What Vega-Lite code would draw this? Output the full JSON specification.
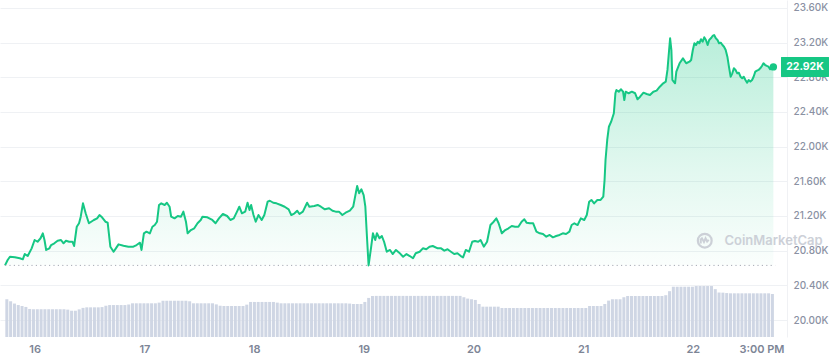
{
  "$schema": "https://vega.github.io/schema/vega-lite/v6.json",
  "width": 787,
  "height": 337,
  "autosize": "none",
  "padding": {"left": 0, "top": 0, "right": 49, "bottom": 22},
  "background": "white",
  "config": {"view": {"stroke": null}, "font": "Inter"},
  "datasets": {
    "price": [
      {"h":0,"p":20630},{"h":0.58,"p":20692},{"h":1.08,"p":20730},{"h":2.16,"p":20723},{"h":3.24,"p":20712},{"h":3.89,"p":20700},{"h":4.32,"p":20761},{"h":4.97,"p":20738},{"h":5.83,"p":20827},{"h":6.48,"p":20923},{"h":7.13,"p":20903},{"h":7.78,"p":20943},{"h":8.27,"p":21000},{"h":8.64,"p":20923},{"h":9.01,"p":20808},{"h":9.72,"p":20827},{"h":10.09,"p":20865},{"h":10.8,"p":20885},{"h":11.51,"p":20915},{"h":12.25,"p":20923},{"h":12.81,"p":20885},{"h":13.33,"p":20915},{"h":14.04,"p":20903},{"h":14.75,"p":20903},{"h":15.12,"p":20854},{"h":15.7,"p":21076},{"h":16.2,"p":21116},{"h":16.57,"p":21192},{"h":17.06,"p":21346},{"h":17.65,"p":21231},{"h":18.36,"p":21116},{"h":18.86,"p":21134},{"h":19.44,"p":21154},{"h":20.15,"p":21173},{"h":20.67,"p":21211},{"h":21.23,"p":21185},{"h":21.97,"p":21134},{"h":22.46,"p":21123},{"h":23.05,"p":20846},{"h":23.76,"p":20788},{"h":24.26,"p":20827},{"h":24.84,"p":20873},{"h":25.92,"p":20857},{"h":27.0,"p":20846},{"h":28.08,"p":20846},{"h":28.79,"p":20865},{"h":29.53,"p":20892},{"h":29.87,"p":20808},{"h":30.39,"p":21000},{"h":30.95,"p":21019},{"h":31.69,"p":21000},{"h":32.25,"p":21076},{"h":32.77,"p":21096},{"h":33.26,"p":21134},{"h":33.7,"p":21327},{"h":34.19,"p":21346},{"h":34.93,"p":21327},{"h":35.42,"p":21353},{"h":36.01,"p":21307},{"h":36.35,"p":21192},{"h":37.09,"p":21173},{"h":37.8,"p":21200},{"h":38.51,"p":21192},{"h":39.03,"p":21250},{"h":39.59,"p":21134},{"h":39.96,"p":21000},{"h":40.67,"p":21038},{"h":41.41,"p":21058},{"h":42.12,"p":21116},{"h":42.83,"p":21154},{"h":43.2,"p":21192},{"h":44.28,"p":21185},{"h":45.36,"p":21154},{"h":46.07,"p":21116},{"h":46.81,"p":21173},{"h":47.67,"p":21223},{"h":48.6,"p":21200},{"h":49.31,"p":21154},{"h":50.05,"p":21173},{"h":50.76,"p":21250},{"h":51.26,"p":21307},{"h":51.84,"p":21231},{"h":52.55,"p":21250},{"h":53.07,"p":21353},{"h":53.5,"p":21269},{"h":53.85,"p":21327},{"h":54.37,"p":21211},{"h":54.86,"p":21134},{"h":55.45,"p":21211},{"h":56.16,"p":21154},{"h":56.74,"p":21211},{"h":57.46,"p":21365},{"h":57.95,"p":21376},{"h":58.69,"p":21353},{"h":59.4,"p":21346},{"h":60.33,"p":21327},{"h":61.19,"p":21307},{"h":62.06,"p":21277},{"h":62.64,"p":21211},{"h":63.35,"p":21231},{"h":63.94,"p":21261},{"h":64.43,"p":21223},{"h":65.17,"p":21250},{"h":66.1,"p":21353},{"h":66.59,"p":21307},{"h":67.67,"p":21315},{"h":68.41,"p":21327},{"h":69.12,"p":21307},{"h":69.98,"p":21277},{"h":70.91,"p":21289},{"h":71.65,"p":21261},{"h":72.36,"p":21250},{"h":73.07,"p":21250},{"h":73.81,"p":21211},{"h":74.52,"p":21238},{"h":75.45,"p":21261},{"h":76.18,"p":21307},{"h":76.53,"p":21404},{"h":77.05,"p":21546},{"h":77.48,"p":21462},{"h":77.98,"p":21508},{"h":78.47,"p":21442},{"h":78.84,"p":21307},{"h":79.21,"p":20943},{"h":79.55,"p":20630},{"h":80.07,"p":20827},{"h":80.5,"p":21000},{"h":81.0,"p":20923},{"h":81.37,"p":21000},{"h":81.93,"p":20943},{"h":82.45,"p":20969},{"h":82.94,"p":20903},{"h":83.53,"p":20788},{"h":84.24,"p":20808},{"h":84.82,"p":20761},{"h":85.54,"p":20808},{"h":86.25,"p":20777},{"h":87.11,"p":20730},{"h":87.85,"p":20761},{"h":88.56,"p":20738},{"h":89.27,"p":20712},{"h":89.86,"p":20770},{"h":90.72,"p":20788},{"h":91.43,"p":20827},{"h":92.17,"p":20816},{"h":92.88,"p":20846},{"h":93.59,"p":20854},{"h":94.67,"p":20827},{"h":95.41,"p":20827},{"h":96.12,"p":20800},{"h":96.83,"p":20816},{"h":97.57,"p":20788},{"h":98.28,"p":20761},{"h":98.99,"p":20770},{"h":99.73,"p":20738},{"h":100.22,"p":20723},{"h":100.81,"p":20808},{"h":101.52,"p":20788},{"h":102.23,"p":20903},{"h":102.82,"p":20912},{"h":103.53,"p":20903},{"h":104.05,"p":20923},{"h":104.76,"p":20846},{"h":105.47,"p":20903},{"h":106.21,"p":21096},{"h":106.92,"p":21134},{"h":107.5,"p":21173},{"h":108.0,"p":21116},{"h":108.71,"p":21000},{"h":109.45,"p":21038},{"h":110.16,"p":21058},{"h":110.87,"p":21085},{"h":111.61,"p":21076},{"h":112.32,"p":21076},{"h":113.03,"p":21134},{"h":113.62,"p":21162},{"h":114.11,"p":21123},{"h":114.85,"p":21116},{"h":115.56,"p":21116},{"h":116.27,"p":21019},{"h":117.01,"p":21000},{"h":117.72,"p":20992},{"h":118.43,"p":20961},{"h":119.17,"p":20981},{"h":119.88,"p":20954},{"h":120.59,"p":20969},{"h":121.33,"p":20981},{"h":122.04,"p":21000},{"h":122.75,"p":20992},{"h":123.49,"p":21019},{"h":123.98,"p":21096},{"h":124.57,"p":21116},{"h":125.28,"p":21096},{"h":125.99,"p":21173},{"h":126.73,"p":21154},{"h":127.29,"p":21211},{"h":127.81,"p":21365},{"h":128.3,"p":21385},{"h":128.89,"p":21346},{"h":129.6,"p":21385},{"h":130.31,"p":21385},{"h":130.9,"p":21423},{"h":131.18,"p":21615},{"h":131.39,"p":21846},{"h":131.76,"p":22077},{"h":132.13,"p":22230},{"h":132.62,"p":22288},{"h":133.21,"p":22385},{"h":133.55,"p":22616},{"h":133.77,"p":22654},{"h":134.29,"p":22634},{"h":134.78,"p":22662},{"h":135.22,"p":22634},{"h":135.5,"p":22538},{"h":135.8,"p":22634},{"h":136.45,"p":22616},{"h":137.16,"p":22634},{"h":137.87,"p":22616},{"h":138.39,"p":22546},{"h":138.95,"p":22576},{"h":139.69,"p":22623},{"h":140.4,"p":22608},{"h":141.11,"p":22596},{"h":141.85,"p":22634},{"h":142.56,"p":22646},{"h":143.27,"p":22692},{"h":144.01,"p":22731},{"h":144.57,"p":22750},{"h":144.94,"p":22885},{"h":145.3,"p":23115},{"h":145.52,"p":23250},{"h":145.8,"p":23115},{"h":146.02,"p":22769},{"h":146.3,"p":22750},{"h":146.6,"p":22731},{"h":146.88,"p":22865},{"h":147.59,"p":22962},{"h":148.33,"p":23019},{"h":149.04,"p":22962},{"h":149.75,"p":22980},{"h":150.12,"p":23000},{"h":150.49,"p":23115},{"h":150.83,"p":23193},{"h":151.2,"p":23173},{"h":151.57,"p":23211},{"h":151.91,"p":23193},{"h":152.28,"p":23239},{"h":152.65,"p":23211},{"h":152.99,"p":23262},{"h":153.36,"p":23231},{"h":153.73,"p":23173},{"h":154.07,"p":23231},{"h":154.44,"p":23250},{"h":154.81,"p":23277},{"h":155.15,"p":23288},{"h":155.52,"p":23250},{"h":155.89,"p":23231},{"h":156.23,"p":23193},{"h":156.6,"p":23200},{"h":156.97,"p":23173},{"h":157.31,"p":23153},{"h":157.68,"p":23115},{"h":158.05,"p":23038},{"h":158.39,"p":22923},{"h":158.76,"p":22807},{"h":159.13,"p":22846},{"h":159.47,"p":22904},{"h":159.84,"p":22885},{"h":160.21,"p":22846},{"h":160.55,"p":22853},{"h":160.92,"p":22807},{"h":161.29,"p":22789},{"h":161.63,"p":22807},{"h":162.0,"p":22769},{"h":162.37,"p":22738},{"h":162.71,"p":22769},{"h":163.08,"p":22750},{"h":163.45,"p":22769},{"h":163.79,"p":22807},{"h":164.16,"p":22865},{"h":164.53,"p":22877},{"h":164.87,"p":22885},{"h":165.24,"p":22904},{"h":165.61,"p":22931},{"h":165.95,"p":22962},{"h":166.32,"p":22942},{"h":166.69,"p":22931},{"h":167.03,"p":22923},{"h":167.4,"p":22893},{"h":167.77,"p":22916},{"h":168.11,"p":22920}
    ],
    "vol": [
      {"h":0.4,"v":28.0},{"h":1.23,"v":26.5},{"h":2.07,"v":24.8},{"h":2.9,"v":23.7},{"h":3.73,"v":23.0},{"h":4.57,"v":22.3},{"h":5.4,"v":20.8},{"h":6.23,"v":20.6},{"h":7.07,"v":20.6},{"h":7.9,"v":20.6},{"h":8.73,"v":20.6},{"h":9.57,"v":20.6},{"h":10.4,"v":20.6},{"h":11.23,"v":20.6},{"h":12.07,"v":20.6},{"h":12.9,"v":20.6},{"h":13.73,"v":20.3},{"h":14.57,"v":19.5},{"h":15.4,"v":19.5},{"h":16.23,"v":20.5},{"h":17.07,"v":21.6},{"h":17.9,"v":22.0},{"h":18.73,"v":22.0},{"h":19.57,"v":22.0},{"h":20.4,"v":22.0},{"h":21.23,"v":22.2},{"h":22.07,"v":23.2},{"h":22.9,"v":23.7},{"h":23.73,"v":23.7},{"h":24.57,"v":23.7},{"h":25.4,"v":23.7},{"h":26.23,"v":23.7},{"h":27.07,"v":24.2},{"h":27.9,"v":25.0},{"h":28.73,"v":25.0},{"h":29.57,"v":25.0},{"h":30.4,"v":25.0},{"h":31.23,"v":25.0},{"h":32.07,"v":25.0},{"h":32.9,"v":25.0},{"h":33.73,"v":25.5},{"h":34.57,"v":26.9},{"h":35.4,"v":26.9},{"h":36.23,"v":26.9},{"h":37.07,"v":26.9},{"h":37.9,"v":26.9},{"h":38.73,"v":26.9},{"h":39.57,"v":26.9},{"h":40.4,"v":26.5},{"h":41.23,"v":25.0},{"h":42.07,"v":25.0},{"h":42.9,"v":25.0},{"h":43.73,"v":25.0},{"h":44.57,"v":25.0},{"h":45.4,"v":25.0},{"h":46.23,"v":24.2},{"h":47.07,"v":23.2},{"h":47.9,"v":23.0},{"h":48.73,"v":23.0},{"h":49.57,"v":23.0},{"h":50.4,"v":23.0},{"h":51.23,"v":23.0},{"h":52.07,"v":23.0},{"h":52.9,"v":24.0},{"h":53.73,"v":26.0},{"h":54.57,"v":26.0},{"h":55.4,"v":26.0},{"h":56.23,"v":26.0},{"h":57.07,"v":26.0},{"h":57.9,"v":26.0},{"h":58.73,"v":26.0},{"h":59.57,"v":25.5},{"h":60.4,"v":25.0},{"h":61.23,"v":25.0},{"h":62.07,"v":25.0},{"h":62.9,"v":25.0},{"h":63.73,"v":25.0},{"h":64.57,"v":25.0},{"h":65.4,"v":25.0},{"h":66.23,"v":25.0},{"h":67.07,"v":25.0},{"h":67.9,"v":25.0},{"h":68.73,"v":25.0},{"h":69.57,"v":25.0},{"h":70.4,"v":25.0},{"h":71.23,"v":25.0},{"h":72.07,"v":25.0},{"h":72.9,"v":25.0},{"h":73.73,"v":25.0},{"h":74.57,"v":25.0},{"h":75.4,"v":24.8},{"h":76.23,"v":24.5},{"h":77.07,"v":24.5},{"h":77.9,"v":24.5},{"h":78.73,"v":26.0},{"h":79.57,"v":29.0},{"h":80.4,"v":30.4},{"h":81.23,"v":30.5},{"h":82.07,"v":30.5},{"h":82.9,"v":30.5},{"h":83.73,"v":30.5},{"h":84.57,"v":30.5},{"h":85.4,"v":30.5},{"h":86.23,"v":30.5},{"h":87.07,"v":30.5},{"h":87.9,"v":30.5},{"h":88.73,"v":30.5},{"h":89.57,"v":30.5},{"h":90.4,"v":30.5},{"h":91.23,"v":30.5},{"h":92.07,"v":30.5},{"h":92.9,"v":30.5},{"h":93.73,"v":30.5},{"h":94.57,"v":30.5},{"h":95.4,"v":30.5},{"h":96.23,"v":30.5},{"h":97.07,"v":30.5},{"h":97.9,"v":30.5},{"h":98.73,"v":30.5},{"h":99.57,"v":30.5},{"h":100.4,"v":29.5},{"h":101.23,"v":28.5},{"h":102.07,"v":28.0},{"h":102.9,"v":27.5},{"h":103.73,"v":24.5},{"h":104.57,"v":22.5},{"h":105.4,"v":22.5},{"h":106.23,"v":22.5},{"h":107.07,"v":22.5},{"h":107.9,"v":22.5},{"h":108.73,"v":21.5},{"h":109.57,"v":21.5},{"h":110.4,"v":21.5},{"h":111.23,"v":21.5},{"h":112.07,"v":21.5},{"h":112.9,"v":21.5},{"h":113.73,"v":21.5},{"h":114.57,"v":21.5},{"h":115.4,"v":21.5},{"h":116.23,"v":21.5},{"h":117.07,"v":21.5},{"h":117.9,"v":21.5},{"h":118.73,"v":21.5},{"h":119.57,"v":21.5},{"h":120.4,"v":21.5},{"h":121.23,"v":21.5},{"h":122.07,"v":21.5},{"h":122.9,"v":21.5},{"h":123.73,"v":21.5},{"h":124.57,"v":21.5},{"h":125.4,"v":21.5},{"h":126.23,"v":21.5},{"h":127.07,"v":21.5},{"h":127.9,"v":23.0},{"h":128.73,"v":23.0},{"h":129.57,"v":23.0},{"h":130.4,"v":23.0},{"h":131.23,"v":24.5},{"h":132.07,"v":27.0},{"h":132.9,"v":28.0},{"h":133.73,"v":28.0},{"h":134.57,"v":28.0},{"h":135.4,"v":29.5},{"h":136.23,"v":30.4},{"h":137.07,"v":30.4},{"h":137.9,"v":30.4},{"h":138.73,"v":30.4},{"h":139.57,"v":30.4},{"h":140.4,"v":30.4},{"h":141.23,"v":30.4},{"h":142.07,"v":30.4},{"h":142.9,"v":30.4},{"h":143.73,"v":30.4},{"h":144.57,"v":31.0},{"h":145.4,"v":34.0},{"h":146.23,"v":37.3},{"h":147.07,"v":37.3},{"h":147.9,"v":37.3},{"h":148.73,"v":37.3},{"h":149.57,"v":37.3},{"h":150.4,"v":37.3},{"h":151.23,"v":37.8},{"h":152.07,"v":37.8},{"h":152.9,"v":37.8},{"h":153.73,"v":37.8},{"h":154.57,"v":37.8},{"h":155.4,"v":35.5},{"h":156.23,"v":33.0},{"h":157.07,"v":32.9},{"h":157.9,"v":32.6},{"h":158.73,"v":32.4},{"h":159.57,"v":32.4},{"h":160.4,"v":32.4},{"h":161.23,"v":32.4},{"h":162.07,"v":32.4},{"h":162.9,"v":32.4},{"h":163.73,"v":32.4},{"h":164.57,"v":32.4},{"h":165.4,"v":32.4},{"h":166.23,"v":32.4},{"h":167.07,"v":32.4},{"h":167.9,"v":31.9}
    ]
  },
  "encoding": {
    "x": {
      "field": "h",
      "type": "quantitative",
      "scale": {"domain": [0, 170], "nice": false, "zero": false},
      "axis": {
        "title": null,
        "values": [6.5, 30.5, 54.5, 78.5, 102.5, 126.5, 150.5, 165.5],
        "labelExpr": "datum.value > 160 ? '3:00 PM' : '' + (16 + round((datum.value - 6.5) / 24))",
        "grid": false,
        "domain": false,
        "ticks": false,
        "labelPadding": 6,
        "labelFontSize": 11,
        "labelFontWeight": 600,
        "labelColor": "#7d8596",
        "labelFont": "Inter"
      }
    }
  },
  "layer": [
    {
      "data": {"name": "vol"},
      "mark": {"type": "bar", "size": 3, "color": "#cfd6e4"},
      "encoding": {
        "y": {"field": "v", "type": "quantitative", "scale": {"domain": [0, 250], "nice": false}, "axis": null}
      }
    },
    {
      "encoding": {
        "y": {
          "field": "p",
          "type": "quantitative",
          "scale": {"domain": [19804, 23692], "nice": false, "zero": false},
          "axis": {
            "orient": "right",
            "title": null,
            "values": [20000, 20400, 20800, 21200, 21600, 22000, 22400, 22800, 23200, 23600],
            "labelExpr": "format(datum.value / 1000, '.2f') + 'K'",
            "grid": true,
            "gridColor": "#eff1f4",
            "gridWidth": 1,
            "domain": true,
            "domainColor": "#f0f1f4",
            "ticks": false,
            "labelPadding": 6,
            "labelFontSize": 10,
            "labelFontWeight": 500,
            "labelColor": "#8a91a3",
            "labelFont": "Inter"
          }
        }
      },
      "layer": [
        {
          "data": {"name": "price"},
          "mark": {
            "type": "area",
            "color": {
              "x1": 0, "y1": 0, "x2": 0, "y2": 1,
              "gradient": "linear",
              "stops": [
                {"offset": 0, "color": "rgba(22,199,132,0.30)"},
                {"offset": 0.6, "color": "rgba(22,199,132,0.12)"},
                {"offset": 1, "color": "rgba(22,199,132,0.02)"}
              ]
            }
          },
          "encoding": {"y2": {"datum": 20630}}
        },
        {
          "data": {"name": "price"},
          "mark": {"type": "line", "color": "#16c784", "strokeWidth": 2, "strokeJoin": "round"}
        },
        {
          "data": {"values": [{"h": 0, "h2": 168.5, "p": 20630}]},
          "mark": {"type": "rule", "color": "#a7abb5", "strokeWidth": 1, "strokeDash": [1.2, 3.2]},
          "encoding": {"x2": {"field": "h2"}}
        },
        {
          "data": {"values": [{"h": 168.11, "p": 22920}]},
          "mark": {"type": "point", "shape": "circle", "filled": true, "color": "#16c784", "opacity": 1, "size": 55}
        },
        {
          "data": {"values": [{"h": 170, "p": 22920}]},
          "mark": {"type": "point", "shape": "M-1,-0.4Q-1,-0.4167 -0.98,-0.4167L0.98,-0.4167Q1,-0.4167 1,-0.4L1,0.4Q1,0.4167 0.98,0.4167L-0.98,0.4167Q-1,0.4167 -1,0.4Z", "filled": true, "color": "#16c784", "opacity": 1, "size": 2304, "xOffset": 23}
        },
        {
          "data": {"values": [{"h": 170, "p": 22920}]},
          "mark": {"type": "text", "text": "22.92K", "color": "white", "font": "Inter", "fontSize": 10.5, "fontWeight": 700, "align": "center", "baseline": "middle", "xOffset": 23}
        },
        {
          "data": {"values": [{"h": 153.1, "p": 20915}]},
          "mark": {"type": "point", "shape": "circle", "filled": false, "color": "#c8ccd4", "strokeWidth": 2.2, "opacity": 0.9, "size": 190}
        },
        {
          "data": {"values": [{"h": 153.1, "p": 20915}]},
          "mark": {"type": "point", "shape": "M-0.5,0.35L-0.5,-0.15L-0.35,-0.3L-0.1,0.15L0.1,-0.3L0.3,0.1L0.5,-0.1", "filled": false, "color": "#c8ccd4", "strokeWidth": 2, "opacity": 0.9, "size": 256}
        },
        {
          "data": {"values": [{"h": 157.4, "p": 20915}]},
          "mark": {"type": "text", "text": "CoinMarketCap", "color": "#c8ccd4", "opacity": 0.9, "font": "Inter", "fontSize": 13, "fontWeight": 600, "align": "left", "baseline": "middle"}
        }
      ]
    }
  ],
  "resolve": {"scale": {"y": "independent"}, "axis": {"y": "independent"}}
}
